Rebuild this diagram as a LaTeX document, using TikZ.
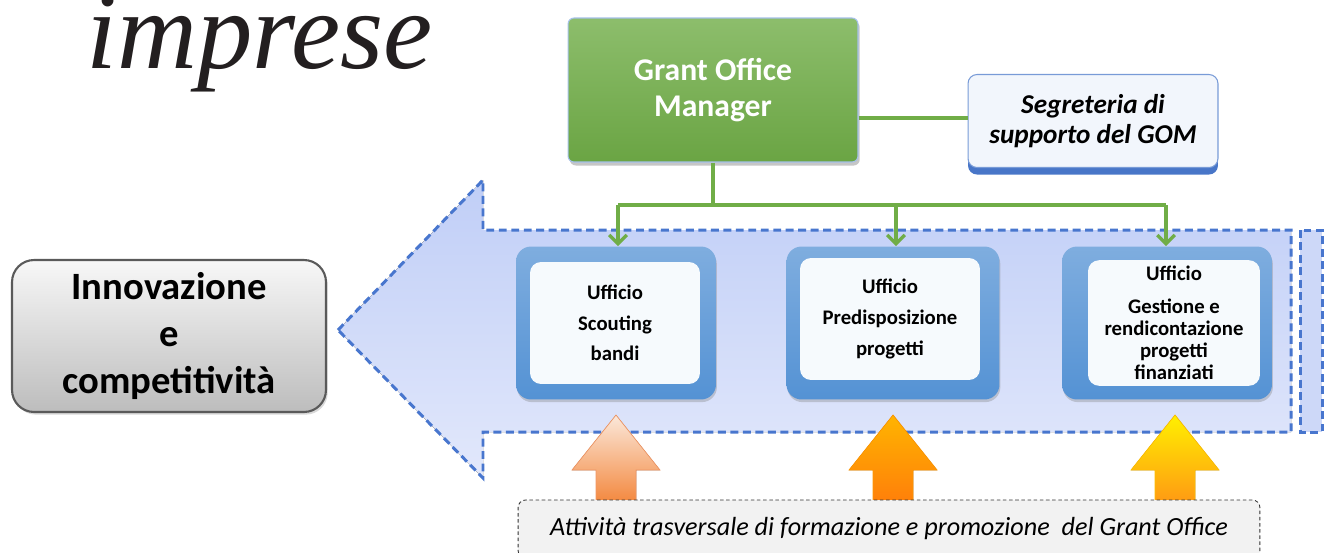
\documentclass[tikz,border=0pt]{standalone}
\usepackage{fontspec}
\newfontfamily\calibri{Carlito}
\newfontfamily\titolofont{Liberation Serif}
\usetikzlibrary{arrows.meta,shadows}

\definecolor{dashblue}{RGB}{72,118,206}
\definecolor{gomgreen}{RGB}{112,173,71}
\definecolor{segblue}{RGB}{72,118,200}
\definecolor{offblue}{RGB}{84,146,212}
\definecolor{textdark}{RGB}{35,31,32}
\definecolor{bodytop}{RGB}{192,206,247}
\definecolor{bodybot}{RGB}{226,232,251}
\definecolor{sidefill}{RGB}{205,216,248}
\definecolor{innoline}{RGB}{90,90,90}
\definecolor{gomline}{RGB}{165,192,232}
\definecolor{segline}{RGB}{120,155,215}
\definecolor{segfill}{RGB}{242,246,252}
\definecolor{peachtop}{RGB}{251,232,218}
\definecolor{peachbot}{RGB}{243,132,56}
\definecolor{peachline}{RGB}{240,150,100}
\definecolor{orangetop}{RGB}{255,180,0}
\definecolor{orangebot}{RGB}{255,125,10}
\definecolor{orangeline}{RGB}{255,150,0}
\definecolor{yellowtop}{RGB}{255,240,0}
\definecolor{yellowbot}{RGB}{255,150,20}
\definecolor{yellowline}{RGB}{255,190,0}

\tikzset{
  dashline/.style={draw=dashblue, line width=1.7pt, dash pattern=on 4.5pt off 2.6pt},
  link/.style={draw=gomgreen, line width=1.9pt},
  officebox/.style={rounded corners=0.3cm, minimum width=4.1cm, minimum height=3.06cm,
    top color=offblue!75!white, bottom color=offblue, draw=none,
    drop shadow={shadow xshift=0.5pt, shadow yshift=-1.5pt, opacity=0.35}},
  officetext/.style={rounded corners=0.22cm, minimum width=3.45cm, minimum height=2.44cm,
    fill=white!95!offblue, align=center, font=\calibri\bfseries\fontsize{11.8}{17.5}\selectfont},
  uparrow/.style={draw=#1, line width=0.4pt}
}

\begin{document}
\begin{tikzpicture}[x=0.02cm,y=-0.02cm]

\useasboundingbox (0,0) rectangle (1326,552);
\clip (0,0) rectangle (1326,552);

\node[anchor=base west, text=textdark, inner sep=0pt] (titolo) at (86,68)
  {\titolofont\fontsize{63}{63}\selectfont\itshape imprese};

\fill[top color=bodytop, bottom color=bodybot]
  (338,330) -- (483,180) -- (483,230) -- (1291,230) -- (1291,432) -- (483,432) -- (483,478) -- cycle;
\draw[dashline]
  (338,330) -- (483,180) -- (483,230) -- (1291,230) -- (1291,432) -- (483,432) -- (483,478) -- cycle;
\fill[sidefill] (1300,230) rectangle (1322,432);
\draw[dashline] (1300,230) rectangle (1322,432);

\node[rounded corners=0.44cm, minimum width=6.28cm, minimum height=3.04cm,
  draw=innoline, line width=1.2pt,
  top color=white!97!black, bottom color=white!74!black, align=center,
  font=\calibri\bfseries\fontsize{22}{26.5}\selectfont,
  drop shadow={shadow xshift=1pt, shadow yshift=-1.5pt, opacity=0.3}] (inno) at (169,336)
  {Innovazione\\e\\competitività};

\node[minimum width=5.8cm, minimum height=2.88cm, rounded corners=0.12cm,
  draw=gomline, line width=0.6pt,
  top color=gomgreen!80!white, bottom color=gomgreen!95!black, text=white, align=center,
  font=\calibri\bfseries\fontsize{18}{20}\selectfont,
  drop shadow={shadow xshift=1pt, shadow yshift=-2pt, opacity=0.45}] (gom) at (713,90)
  {\raisebox{-4pt}{Grant Office}\\\raisebox{-4pt}{Manager}};

\node[minimum width=5.0cm, minimum height=1.86cm, rounded corners=0.18cm,
  draw=segline, line width=0.6pt, fill=segfill, align=center,
  font=\calibri\bfseries\itshape\fontsize{15.5}{17.5}\selectfont,
  drop shadow={shadow xshift=0pt, shadow yshift=-4pt, fill=segblue, opacity=1}] (seg) at (1093,121)
  {Segreteria di\\supporto del GOM};

\draw[link] (gom.east |- 0,118) -- (seg.west |- 0,118);

\node[officebox, minimum width=4.0cm] (uff1) at (616,323) {};
\node[officebox, minimum width=4.26cm] (uff2) at (893,323) {};
\node[officebox, minimum width=4.2cm] (uff3) at (1167,323) {};

\node[officetext, minimum width=3.4cm] (scout) at (615,323) {Ufficio\\Scouting\\bandi};
\node[officetext, minimum width=3.6cm] (predis) at (890,319) {Ufficio\\Predisposizione\\progetti};
\node[officetext, minimum width=3.44cm, font=\calibri\bfseries\fontsize{11.8}{12.6}\selectfont]
  (gest) at (1174,323) {Ufficio\\[6pt]Gestione e\\rendicontazione\\progetti\\finanziati};

\coordinate (snodo) at (713,205);
\draw[link] (gom.south) -- (snodo);
\draw[link] (618,205) -- (1166,205);
\draw[link, -{Straight Barb[length=5pt,width=10pt]}] (618,205) -- (uff1.north -| 618,0);
\draw[link, -{Straight Barb[length=5pt,width=10pt]}] (896,205) -- (uff2.north -| 896,0);
\draw[link, -{Straight Barb[length=5pt,width=10pt]}] (1166,205) -- (uff3.north -| 1166,0);

\filldraw[uparrow=peachline, top color=peachtop, bottom color=peachbot]
  (616,415) -- (660,470) -- (636,470) -- (636,506) -- (596,506) -- (596,470) -- (572,470) -- cycle;
\filldraw[uparrow=orangeline, top color=orangetop, bottom color=orangebot]
  (893,415) -- (937,470) -- (913,470) -- (913,506) -- (873,506) -- (873,470) -- (849,470) -- cycle;
\filldraw[uparrow=yellowline, top color=yellowtop, bottom color=yellowbot]
  (1175,415) -- (1219,470) -- (1195,470) -- (1195,506) -- (1155,506) -- (1155,470) -- (1131,470) -- cycle;

\node[minimum width=14.84cm, minimum height=1.16cm, rounded corners=0.15cm,
  draw=black!80, line width=0.5pt, dash pattern=on 2pt off 1.5pt,
  fill=white!95!black, font=\calibri\itshape\fontsize{14.9}{16}\selectfont] (attivita) at (889,529)
  {Attività trasversale di formazione e promozione \ del Grant Office};

\end{tikzpicture}
\end{document}
